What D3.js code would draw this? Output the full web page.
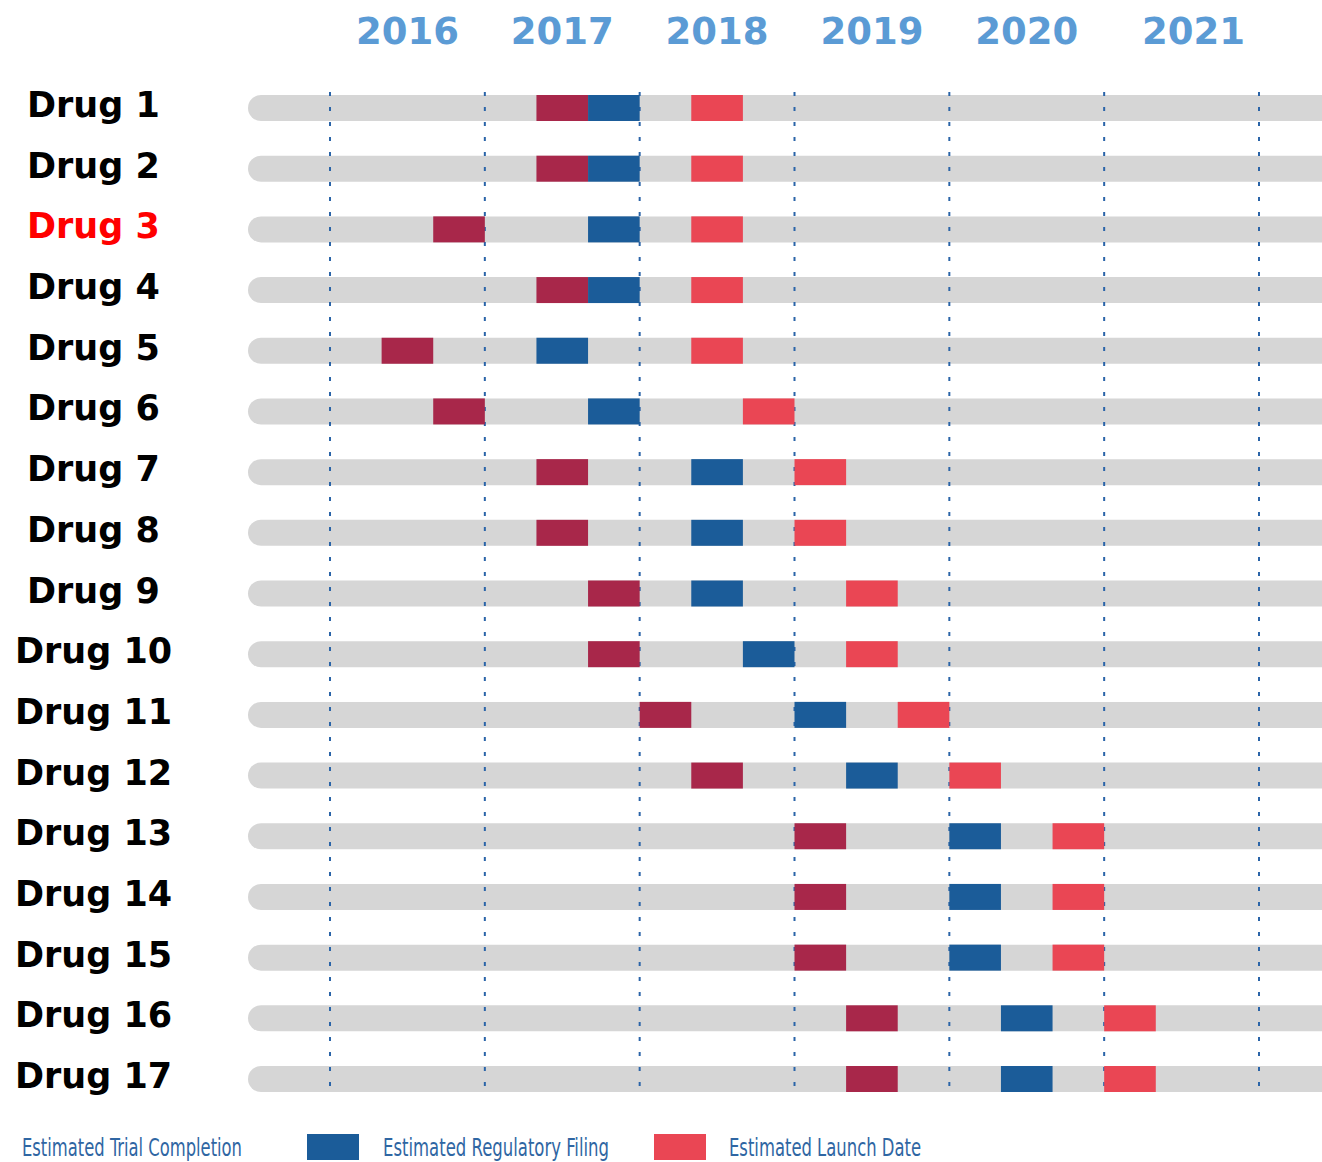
<!DOCTYPE html>
<html>
<head>
<meta charset="utf-8">
<script src="https://cdn.jsdelivr.net/npm/d3@7.9.0/dist/d3.min.js"></script>
<style>
  html, body { margin: 0; padding: 0; background: #fff; }
  svg { display: block; }
</style>
</head>
<body>
<svg></svg>
<script>
const width = 1322;
const height = 1162;

const drugs = d3.range(1, 18).map(i => `Drug ${i}`);
const years = [2016, 2017, 2018, 2019, 2020, 2021];
// period = start of a 4-month slot, as [year, third of year 1..3]
const trialCompletion = [[2017,2],[2017,2],[2016,3],[2017,2],[2016,2],[2016,3],[2017,2],[2017,2],[2017,3],[2017,3],[2018,1],[2018,2],[2019,1],[2019,1],[2019,1],[2019,2],[2019,2]];
const regulatoryFiling = [[2017,3],[2017,3],[2017,3],[2017,3],[2017,2],[2017,3],[2018,2],[2018,2],[2018,2],[2018,3],[2019,1],[2019,2],[2020,1],[2020,1],[2020,1],[2020,2],[2020,2]];
const launchDate = [[2018,2],[2018,2],[2018,2],[2018,2],[2018,2],[2018,3],[2019,1],[2019,1],[2019,2],[2019,2],[2019,3],[2020,1],[2020,3],[2020,3],[2020,3],[2021,1],[2021,1]];
const highlighted = "Drug 3";

const colors = {
  trial: "#a8274a",
  filing: "#1b5c99",
  launch: "#ea4654",
  track: "#d6d6d6",
  grid: "#2a64a8",
  year: "#5b9bd5",
  legend: "#2f66a3"
};

const svg = d3.select("svg")
  .attr("width", width)
  .attr("height", height);

const x = d3.scaleLinear()
  .domain([2016, 2022])
  .range([330, 1259]);

const y = d3.scalePoint()
  .domain(drugs)
  .range([108, 1079]);

const barH = 26;
const slot = x(2016 + 1 / 3) - x(2016);
const start = p => p[0] + (p[1] - 1) / 3;

// year headers
svg.append("g")
  .selectAll("text")
  .data(years)
  .join("text")
  .attr("x", d => x(d + 0.5) + (d === 2021 ? 12 : 0))
  .attr("y", 44)
  .attr("text-anchor", "middle")
  .attr("font-family", "DejaVu Sans")
  .attr("font-weight", "bold")
  .attr("font-size", 37)
  .attr("fill", colors.year)
  .text(d => d);

// drug labels
svg.append("g")
  .selectAll("text")
  .data(drugs)
  .join("text")
  .attr("x", (d, i) => i < 9 ? 27 : 15)
  .attr("y", d => y(d) + 9)
  .attr("font-family", "DejaVu Sans")
  .attr("font-weight", "bold")
  .attr("font-size", 35)
  .attr("fill", d => d === highlighted ? "#ff0000" : "#000")
  .text(d => d);

// grey tracks
svg.append("g")
  .selectAll("rect")
  .data(drugs)
  .join("rect")
  .attr("x", 248)
  .attr("y", d => y(d) - barH / 2)
  .attr("width", width - 248 + 20)
  .attr("height", barH)
  .attr("rx", barH / 2)
  .attr("fill", colors.track);

// dashed year lines
svg.append("g")
  .selectAll("line")
  .data(d3.range(2016, 2023))
  .join("line")
  .attr("x1", d => x(d))
  .attr("x2", d => x(d))
  .attr("y1", 92)
  .attr("y2", 1094)
  .attr("stroke", colors.grid)
  .attr("stroke-width", 2)
  .attr("stroke-dasharray", "4 11");

// milestone bars
const milestones = [
  { key: "trial", values: trialCompletion },
  { key: "filing", values: regulatoryFiling },
  { key: "launch", values: launchDate }
];

svg.append("g")
  .selectAll("g")
  .data(milestones)
  .join("g")
  .attr("fill", d => colors[d.key])
  .selectAll("rect")
  .data(d => d.values.map((p, i) => ({ drug: drugs[i], t: start(p) })))
  .join("rect")
  .attr("x", d => x(d.t))
  .attr("y", d => y(d.drug) - barH / 2)
  .attr("width", slot)
  .attr("height", barH);

// legend
const legendItems = [
  { label: "Estimated Trial Completion", textX: 22, len: 220, swatch: null },
  { label: "Estimated Regulatory Filing", textX: 383, len: 226, swatch: { x: 307, c: colors.filing } },
  { label: "Estimated Launch Date", textX: 729, len: 192, swatch: { x: 654, c: colors.launch } }
];

const legend = svg.append("g");
legend.selectAll("rect")
  .data(legendItems.filter(d => d.swatch))
  .join("rect")
  .attr("x", d => d.swatch.x)
  .attr("y", 1134)
  .attr("width", 52)
  .attr("height", 26)
  .attr("fill", d => d.swatch.c);

legend.selectAll("text")
  .data(legendItems)
  .join("text")
  .attr("x", d => d.textX)
  .attr("y", 1156)
  .attr("font-family", "Liberation Sans Narrow, DejaVu Sans Condensed, sans-serif")
  .attr("font-size", 24)
  .attr("textLength", d => d.len)
  .attr("lengthAdjust", "spacingAndGlyphs")
  .attr("fill", colors.legend)
  .text(d => d.label);
</script>
</body>
</html>
